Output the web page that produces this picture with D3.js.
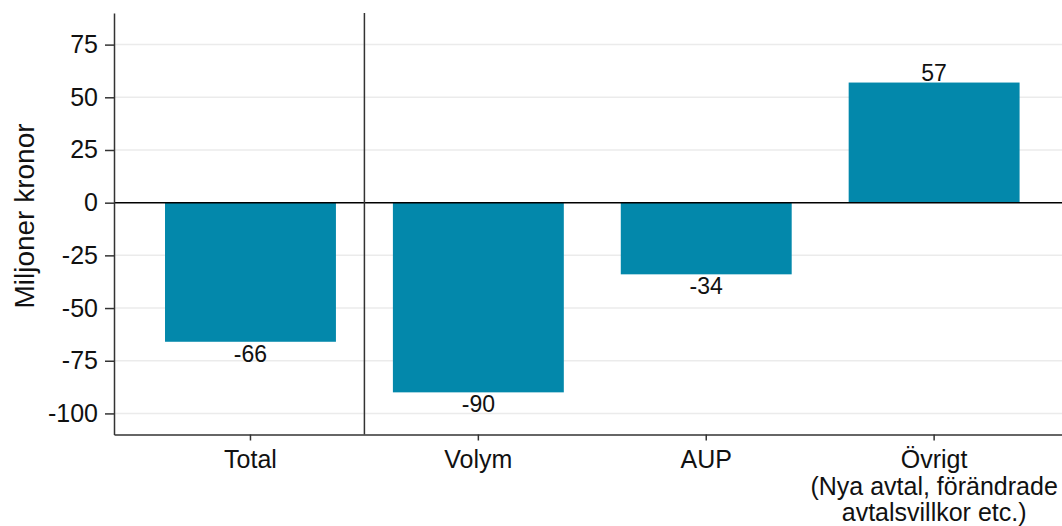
<!DOCTYPE html>
<html>
<head>
<meta charset="utf-8">
<script src="https://cdn.jsdelivr.net/npm/d3@7"></script>
<style>
  body { margin: 0; background: #fff; }
  svg { display: block; font-family: "Liberation Sans", Arial, sans-serif; }
</style>
</head>
<body>
<div id="chart"></div>
<script>
const categories = ["Total", "Volym", "AUP", "Övrigt"];
const values = [-66, -90, -34, 57];
const categoryLines = [["Total"], ["Volym"], ["AUP"], ["Övrigt", "(Nya avtal, förändrade", "avtalsvillkor etc.)"]];
const yTicks = [-100, -75, -50, -25, 0, 25, 50, 75];
const yTitle = "Miljoner kronor";

const width = 1062;
const height = 526;
const margin = {top: 13, right: 0, bottom: 91.5, left: 114};
const barColor = "#0388ab";

const svg = d3.select("#chart").append("svg")
    .attr("width", width)
    .attr("height", height);

const x = d3.scaleBand()
    .domain(categories)
    .range([margin.left, width - margin.right])
    .paddingInner(0.25)
    .paddingOuter(0.205)
    .align(0.546);

const y = d3.scaleLinear()
    .domain([-110, 90])
    .range([height - margin.bottom, margin.top]);

// gridlines
svg.append("g")
    .selectAll("line")
    .data(yTicks.filter(d => d !== 0))
    .join("line")
    .attr("x1", margin.left)
    .attr("x2", width)
    .attr("y1", d => y(d))
    .attr("y2", d => y(d))
    .attr("stroke", "#ebebeb")
    .attr("stroke-width", 1.5);

// bars
svg.append("g")
    .selectAll("rect")
    .data(categories.map((c, i) => ({c, v: values[i]})))
    .join("rect")
    .attr("x", d => x(d.c))
    .attr("width", x.bandwidth())
    .attr("y", d => y(Math.max(0, d.v)))
    .attr("height", d => Math.abs(y(d.v) - y(0)))
    .attr("fill", barColor);

// zero line
svg.append("line")
    .attr("x1", margin.left)
    .attr("x2", width)
    .attr("y1", y(0))
    .attr("y2", y(0))
    .attr("stroke", "#000")
    .attr("stroke-width", 1.5);

// separator between Total and the parts
const sepX = x("Total") + x.bandwidth() + x.step() * x.paddingInner() / 2;
svg.append("line")
    .attr("x1", sepX)
    .attr("x2", sepX)
    .attr("y1", margin.top)
    .attr("y2", height - margin.bottom)
    .attr("stroke", "#333")
    .attr("stroke-width", 1.5);

// value labels
svg.append("g")
    .selectAll("text")
    .data(categories.map((c, i) => ({c, v: values[i]})))
    .join("text")
    .attr("x", d => x(d.c) + x.bandwidth() / 2)
    .attr("y", d => d.v >= 0 ? y(d.v) - 2 : y(d.v) + 20)
    .attr("text-anchor", "middle")
    .attr("font-size", 23)
    .attr("fill", "#111")
    .text(d => d.v);

// y axis (plain hyphen for negatives, like the original)
const yAxis = svg.append("g")
    .attr("transform", `translate(${margin.left},0)`)
    .call(d3.axisLeft(y).tickValues(yTicks).tickFormat(d => String(d))
        .tickSize(9).tickPadding(7).tickSizeOuter(0));
yAxis.selectAll("text").attr("font-size", 25).attr("fill", "#111").attr("font-family", "Liberation Sans, Arial, sans-serif");
yAxis.selectAll("line, path").attr("stroke", "#333").attr("stroke-width", 1.5);

// x axis
const xAxis = svg.append("g")
    .attr("transform", `translate(0,${height - margin.bottom})`)
    .call(d3.axisBottom(x).tickSize(6).tickSizeOuter(0).tickFormat(""));
xAxis.selectAll("line, path").attr("stroke", "#333").attr("stroke-width", 1.5);

const xLabels = svg.append("g")
    .selectAll("text")
    .data(categories.map((c, i) => ({c, lines: categoryLines[i]})))
    .join("text")
    .attr("x", d => x(d.c) + x.bandwidth() / 2)
    .attr("y", height - margin.bottom + 33.5)
    .attr("text-anchor", "middle")
    .attr("font-size", 25)
    .attr("fill", "#111");
xLabels.selectAll("tspan")
    .data(d => d.lines.map(l => ({l, cx: x(d.c) + x.bandwidth() / 2})))
    .join("tspan")
    .attr("x", d => d.cx)
    .attr("dy", (d, i) => i === 0 ? 0 : 26.5)
    .text(d => d.l);

// y title
svg.append("text")
    .attr("transform", `translate(34,${216}) rotate(-90)`)
    .attr("text-anchor", "middle")
    .attr("font-size", 28)
    .attr("fill", "#111")
    .text(yTitle);
</script>
</body>
</html>
